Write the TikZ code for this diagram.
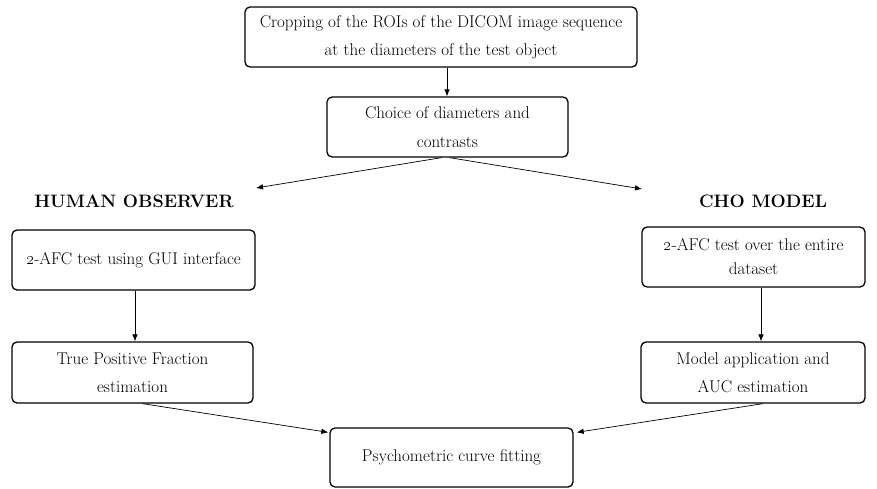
\documentclass[tikz,border=0pt]{standalone}
\usetikzlibrary{arrows.meta,calc}
\begin{document}
\begin{tikzpicture}[x=1pt,y=-1pt,
  box/.style={draw, line width=1.3pt, rounded corners=5pt, align=center, inner sep=0pt,
    font=\fontsize{17}{28}\selectfont},
  head/.style={font=\fontsize{18}{20}\selectfont\bfseries, inner sep=0pt},
  conn/.style={line width=0.7pt, -{Latex[length=7pt,width=5.5pt]}}]
\useasboundingbox (0,0) rectangle (877,488);
\node[box, minimum width=392pt, minimum height=60pt] (b1) at (441,37)
  {Cropping of the ROIs of the DICOM image sequence\\at the diameters of the test object};
\node[box, minimum width=241pt, minimum height=60pt, font=\fontsize{17}{29}\selectfont] (b2) at (447.5,127)
  {Choice of diameters and\\contrasts};
\node[head] (hh) at (134,201) {HUMAN OBSERVER};
\node[head] (hc) at (763,201) {CHO MODEL};
\node[box, minimum width=243pt, minimum height=60pt] (l1) at (133.5,260)
  {\oldstylenums{2}-AFC test using GUI interface};
\node[box, minimum width=223pt, minimum height=60pt, font=\fontsize{17}{24}\selectfont] (r1) at (753.5,257)
  {\oldstylenums{2}-AFC test over the entire\\dataset};
\node[box, minimum width=241pt, minimum height=61pt] (l2) at (132.5,372.5)
  {True Positive Fraction\\estimation};
\node[box, minimum width=224pt, minimum height=61pt] (r2) at (753,372.5)
  {Model application and\\AUC estimation};
\node[box, minimum width=243pt, minimum height=59pt] (bt) at (451.5,457.5)
  {Psychometric curve fitting};
\coordinate (lt) at (256,188);
\coordinate (rt) at (642,189);
\draw[conn] (b1.south -| 447,0) -- (b2.north -| 447,0);
\draw[conn] ($(b2.south)+(-6,0)$) -- (lt);
\draw[conn] ($(b2.south)+(2,0)$) -- (rt);
\draw[conn] (l1.south -| 135,0) -- (l2.north -| 135,0);
\draw[conn] (r1.south -| 761,0) -- (r2.north -| 761,0);
\draw[conn] ($(l2.south)+(10,0)$) -- ($(bt.north west)+(-1,5)$);
\draw[conn] ($(r2.south)+(10,0)$) -- ($(bt.north east)+(3,5)$);
\end{tikzpicture}
\end{document}
